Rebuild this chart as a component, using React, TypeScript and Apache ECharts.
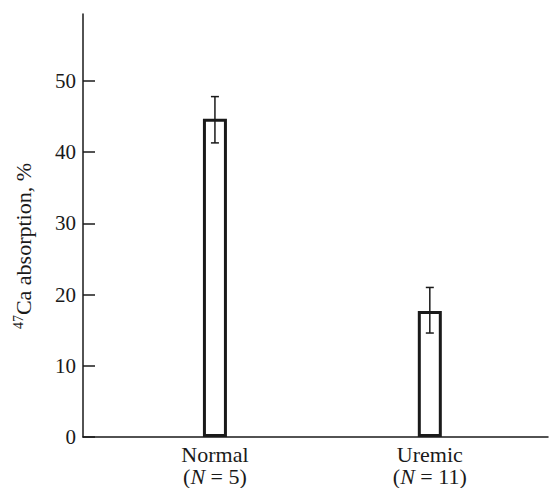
import React, { useEffect, useRef } from "react";
import * as echarts from "echarts";

const categories = ["Normal", "Uremic"];
const groupSizes = [5, 11];
const means = [44.7, 17.7];
const errLow = [41.3, 14.6];
const errHigh = [47.8, 21.0];
const yTicks = [0, 10, 20, 30, 40, 50];
const categoryPositions = [1, 2];

const FONT = "'Liberation Serif', 'DejaVu Serif', serif";
const INK = "#1a1a1a";

export default function App() {
  const ref = useRef<HTMLDivElement>(null);
  useEffect(() => {
    if (!ref.current) return;
    const chart = echarts.init(ref.current, undefined, { renderer: "svg" });
    const barData = categoryPositions.map((x, i) => [x, means[i]]);
    const errData = categoryPositions.map((x, i) => [x, errLow[i], errHigh[i]]);
    chart.setOption({
      animation: false,
      backgroundColor: "#ffffff",
      grid: { left: 83, right: 3, top: 14, bottom: 51, containLabel: false },
      xAxis: {
        type: "value",
        min: 0.386,
        max: 2.55,
        splitLine: { show: false },
        axisLine: { show: true, onZero: false, lineStyle: { color: INK, width: 1.5 } },
        axisTick: { show: false },
        axisLabel: {
          customValues: categoryPositions,
          margin: 6,
          color: INK,
          fontFamily: FONT,
          fontSize: 22,
          lineHeight: 22,
          formatter: (v: number) => {
            const i = categoryPositions.indexOf(Math.round(v));
            if (i < 0) return "";
            return `{t|${categories[i]}}\n{t|(}{i|N}{t| = ${groupSizes[i]})}`;
          },
          rich: {
            t: { fontFamily: FONT, fontSize: 22, lineHeight: 22, color: INK },
            i: { fontStyle: "italic", fontFamily: FONT, fontSize: 22, lineHeight: 22, color: INK },
          },
        },
      },
      yAxis: {
        type: "value",
        min: 0,
        max: 59.4,
        splitLine: { show: false },
        axisLine: { show: true, lineStyle: { color: INK, width: 1.5 } },
        axisTick: { show: true, inside: true, length: 12, customValues: yTicks, lineStyle: { color: INK, width: 1.5 } },
        axisLabel: { customValues: yTicks, margin: 7, color: INK, fontFamily: FONT, fontSize: 21 },
        name: "{sup|47}Ca absorption, %",
        nameLocation: "middle",
        nameGap: 47,
        nameTextStyle: {
          color: INK,
          fontFamily: FONT,
          fontSize: 22,
          padding: [0, 41, 0, 0],
          rich: {
            sup: { fontSize: 14, fontFamily: FONT, color: INK, padding: [0, 0, 11, 0] },
          },
        },
      },
      series: [
        {
          type: "bar",
          data: barData,
          barWidth: 24,
          itemStyle: { color: "#ffffff", borderColor: INK, borderWidth: 3 },
        },
        {
          type: "custom",
          data: errData,
          z: 5,
          renderItem: (params: any, api: any) => {
            const x = api.value(0);
            const lo = api.coord([x, api.value(1)]);
            const hi = api.coord([x, api.value(2)]);
            const cap = 4;
            const style = { stroke: INK, lineWidth: 1.5 };
            return {
              type: "group",
              children: [
                { type: "line", shape: { x1: lo[0], y1: lo[1], x2: hi[0], y2: hi[1] }, style },
                { type: "line", shape: { x1: lo[0] - cap, y1: lo[1], x2: lo[0] + cap, y2: lo[1] }, style },
                { type: "line", shape: { x1: hi[0] - cap, y1: hi[1], x2: hi[0] + cap, y2: hi[1] }, style },
              ],
            };
          },
        },
      ],
    });
    return () => chart.dispose();
  }, []);
  return <div ref={ref} style={{ width: 551, height: 488, position: "absolute", left: 0, top: 0 }} />;
}
